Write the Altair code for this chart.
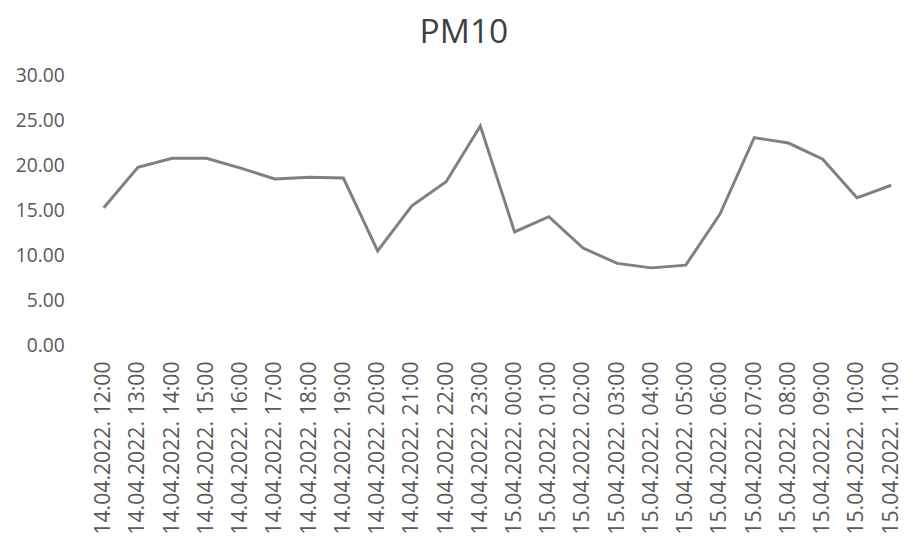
import altair as alt
import pandas as pd

labels = [
    "14.04.2022. 12:00", "14.04.2022. 13:00", "14.04.2022. 14:00", "14.04.2022. 15:00",
    "14.04.2022. 16:00", "14.04.2022. 17:00", "14.04.2022. 18:00", "14.04.2022. 19:00",
    "14.04.2022. 20:00", "14.04.2022. 21:00", "14.04.2022. 22:00", "14.04.2022. 23:00",
    "15.04.2022. 00:00", "15.04.2022. 01:00", "15.04.2022. 02:00", "15.04.2022. 03:00",
    "15.04.2022. 04:00", "15.04.2022. 05:00", "15.04.2022. 06:00", "15.04.2022. 07:00",
    "15.04.2022. 08:00", "15.04.2022. 09:00", "15.04.2022. 10:00", "15.04.2022. 11:00",
]
pm10 = [
    15.3, 19.8, 20.8, 20.8, 19.7, 18.5, 18.7, 18.6, 10.5, 15.5, 18.2, 24.4,
    12.6, 14.3, 10.8, 9.1, 8.6, 8.9, 14.6, 23.1, 22.5, 20.7, 16.4, 17.8,
]

df = pd.DataFrame({"time": labels, "pm10": pm10})

FONT = "Open Sans"
GREY = "#595959"

chart = alt.Chart(df).mark_line(color="#808080", strokeWidth=3).encode(
    x=alt.X("time:O", sort=labels,
            scale=alt.Scale(type="point", padding=0),
            axis=alt.Axis(title=None, labelAngle=-90, labelFont=FONT, labelFontSize=21.5,
                          labelColor=GREY, labelPadding=16, ticks=False, domain=False,
                          labelOverlap=False, labelBound=False)),
    y=alt.Y("pm10:Q",
            scale=alt.Scale(domain=[0, 30], nice=False),
            axis=alt.Axis(title=None, values=[0, 5, 10, 15, 20, 25, 30], format=".2f",
                          labelFont=FONT, labelFontSize=19.5, labelColor=GREY,
                          labelPadding=40, ticks=False, domain=False, grid=False)),
).properties(
    width=798, height=273,
    title=alt.TitleParams("PM10", font=FONT, fontSize=34, fontWeight="normal",
                          color="#404040", offset=16, anchor="middle", dx=-34),
    autosize=alt.AutoSizeParams(type="none"),
    padding={"left": 97, "top": 65, "right": 14, "bottom": 200},
).configure_view(stroke=None)

chart.save("out.html", embed_options={"renderer": "svg", "actions": False})
